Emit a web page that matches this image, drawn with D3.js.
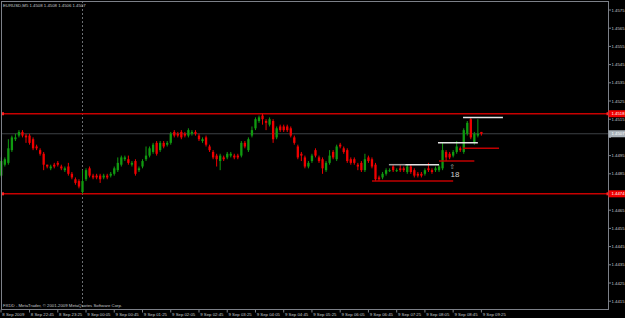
<!DOCTYPE html>
<html><head><meta charset="utf-8">
<script src="https://cdn.jsdelivr.net/npm/d3@7"></script>
<style>html,body{margin:0;padding:0;background:#000;overflow:hidden}svg{display:block}</style>
</head><body><svg id="c" width="625" height="318"></svg>
<script>
// ---------- data ----------
const symbol = "EURUSD,M5";
const firstBar = "2009-09-08T22:05";
const barMinutes = 5;
const open  = [1.4484,1.4490,1.4491,1.4498,1.4504,1.4506,1.4508,1.4506,1.4506,1.4504,1.4500,1.4498,1.4496,1.4490,1.4488,1.4490,1.4491,1.4489,1.4487,1.4489,
1.4485,1.4482,1.4481,1.4475,1.4482,1.4488,1.4484,1.4484,1.4484,1.4483,1.4484,1.4484,1.4485,1.4487,1.4490,1.4493,1.4493,1.4490,1.4492,1.4487,
1.4489,1.4493,1.4495,1.4497,1.4502,1.4498,1.4502,1.4501,1.4502,1.4508,1.4507,1.4508,1.4507,1.4506,1.4507,1.4508,1.4506,1.4503,1.4505,1.4500,
1.4497,1.4495,1.4492,1.4494,1.4494,1.4495,1.4495,1.4495,1.4495,1.4502,1.4498,1.4506,1.4510,1.4514,1.4517,1.4514,1.4512,1.4514,1.4505,1.4511,
1.4511,1.4511,1.4510,1.4505,1.4500,1.4496,1.4494,1.4489,1.4492,1.4498,1.4494,1.4493,1.4487,1.4491,1.4497,1.4493,1.4501,1.4499,1.4498,1.4493,
1.4493,1.4490,1.4491,1.4487,1.4494,1.4493,1.4490,1.4483,1.4483,1.4485,1.4487,1.4489,1.4487,1.4488,1.4488,1.4486,1.4489,1.4487,1.4485,1.4485,
1.4485,1.4488,1.4487,1.4487,1.4487,1.4488,1.4497,1.4496,1.4495,1.4497,1.4499,1.4497,1.4507,1.4515,1.4502,1.4506,1.4508];
const high  = [1.4494,1.4494,1.4504,1.4506,1.4507,1.4509,1.4509,1.4507,1.4507,1.4505,1.4501,1.4499,1.4497,1.4490,1.4490,1.4491,1.4492,1.4490,1.4489,1.4491,
1.4486,1.4483,1.4482,1.4487,1.4488,1.4489,1.4485,1.4485,1.4485,1.4485,1.4485,1.4486,1.4489,1.4494,1.4495,1.4495,1.4495,1.4492,1.4493,1.4489,
1.4493,1.4500,1.4500,1.4502,1.4503,1.4503,1.4503,1.4503,1.4508,1.4509,1.4508,1.4509,1.4508,1.4510,1.4509,1.4509,1.4507,1.4505,1.4506,1.4501,
1.4498,1.4496,1.4496,1.4495,1.4497,1.4497,1.4496,1.4496,1.4503,1.4503,1.4505,1.4511,1.4516,1.4517,1.4518,1.4515,1.4516,1.4515,1.4511,1.4512,
1.4512,1.4512,1.4511,1.4506,1.4501,1.4497,1.4495,1.4492,1.4496,1.4499,1.4495,1.4494,1.4492,1.4498,1.4498,1.4501,1.4502,1.4500,1.4499,1.4494,
1.4494,1.4491,1.4492,1.4496,1.4495,1.4494,1.4491,1.4484,1.4486,1.4488,1.4488,1.4490,1.4488,1.4490,1.4489,1.4490,1.4490,1.4488,1.4486,1.4486,
1.4488,1.4491,1.4488,1.4489,1.4490,1.4502,1.4498,1.4497,1.4498,1.4503,1.4500,1.4510,1.4514,1.4516,1.4508,1.4515,1.4508];
const low   = [1.4483,1.4489,1.4490,1.4497,1.4503,1.4505,1.4505,1.4502,1.4501,1.4498,1.4498,1.4495,1.4487,1.4488,1.4487,1.4488,1.4489,1.4487,1.4486,1.4484,
1.4482,1.4479,1.4477,1.4474,1.4481,1.4483,1.4482,1.4482,1.4480,1.4482,1.4482,1.4483,1.4484,1.4486,1.4489,1.4492,1.4490,1.4489,1.4484,1.4486,
1.4488,1.4492,1.4494,1.4496,1.4495,1.4497,1.4499,1.4500,1.4501,1.4505,1.4505,1.4504,1.4505,1.4505,1.4506,1.4506,1.4503,1.4502,1.4500,1.4497,
1.4493,1.4489,1.4487,1.4492,1.4493,1.4494,1.4493,1.4493,1.4494,1.4499,1.4497,1.4505,1.4509,1.4513,1.4512,1.4509,1.4511,1.4502,1.4504,1.4508,
1.4508,1.4508,1.4505,1.4501,1.4493,1.4492,1.4488,1.4488,1.4491,1.4494,1.4491,1.4485,1.4486,1.4490,1.4493,1.4492,1.4499,1.4496,1.4491,1.4490,
1.4490,1.4487,1.4486,1.4486,1.4491,1.4488,1.4481,1.4481,1.4482,1.4484,1.4486,1.4486,1.4486,1.4486,1.4486,1.4485,1.4485,1.4483,1.4483,1.4483,
1.4484,1.4486,1.4485,1.4486,1.4486,1.4487,1.4492,1.4493,1.4494,1.4496,1.4497,1.4496,1.4506,1.4504,1.4501,1.4505,1.4506];
const close = [1.4492,1.4493,1.4499,1.4505,1.4505,1.4508,1.4506,1.4505,1.4502,1.4499,1.4499,1.4496,1.4490,1.4489,1.4489,1.4489,1.4490,1.4488,1.4488,1.4485,
1.4483,1.4480,1.4478,1.4481,1.4487,1.4484,1.4483,1.4483,1.4482,1.4484,1.4483,1.4485,1.4488,1.4491,1.4494,1.4494,1.4491,1.4491,1.4485,1.4488,
1.4492,1.4495,1.4499,1.4501,1.4496,1.4502,1.4500,1.4502,1.4507,1.4506,1.4506,1.4505,1.4506,1.4509,1.4508,1.4507,1.4504,1.4504,1.4501,1.4498,
1.4494,1.4493,1.4495,1.4493,1.4496,1.4496,1.4494,1.4494,1.4502,1.4500,1.4504,1.4509,1.4515,1.4516,1.4515,1.4513,1.4515,1.4504,1.4510,1.4509,
1.4509,1.4509,1.4506,1.4502,1.4494,1.4495,1.4489,1.4491,1.4495,1.4495,1.4492,1.4488,1.4491,1.4495,1.4494,1.4500,1.4500,1.4497,1.4492,1.4491,
1.4491,1.4489,1.4487,1.4493,1.4492,1.4489,1.4482,1.4482,1.4485,1.4487,1.4487,1.4487,1.4487,1.4487,1.4487,1.4489,1.4486,1.4484,1.4484,1.4484,
1.4487,1.4487,1.4486,1.4488,1.4489,1.4498,1.4494,1.4494,1.4497,1.4500,1.4498,1.4509,1.4513,1.4505,1.4507,1.4507,1.4507];

const priceTicks = [1.4575,1.4565,1.4555,1.4545,1.4535,1.4525,1.4515,1.4505,1.4495,1.4485,1.4475,1.4465,1.4455,1.4445,1.4435,1.4425,1.4415];
const redLevels = [1.4518, 1.4474];
const bidPrice = 1.4507;
const labelEveryBars = 8;
const separatorBar = 23;          // 9 Sep 00:00
const titleValues = ["1.4508","1.4508","1.4506","1.4507"];
const copyright = "FXDD - MetaTrader, \u00A9 2001-2009 MetaQuotes Software Corp.";
// range lines drawn on the chart (bar index from/to, price)
const lightLevels = [{from:109.8,to:114.4,price:1.4490,dim:true},{from:114.4,to:124.0,price:1.4490},
                     {from:123.7,to:135.0,price:1.4502},{from:130.8,to:142.1,price:1.4516}];
const darkLevels  = [{from:105.0,to:128.0,price:1.4481},{from:124.0,to:134.0,price:1.4492},{from:130.8,to:141.0,price:1.4499}];
const markerText = "18";
const markerAt = {bar:127.4, price:1.4487};

// ---------- drawing ----------
const W=625,H=318, frameL=1, frameT=1, frameR=608.5, frameB=309.5;
const svg=d3.select("#c");
svg.append("rect").attr("width",W).attr("height",H).attr("fill","#000");

const t0 = d3.timeParse("%Y-%m-%dT%H:%M")(firstBar);
const bars = open.map((o,i)=>({i,t:d3.timeMinute.offset(t0,i*barMinutes),o,h:high[i],l:low[i],c:close[i]}));
const x = d3.scaleLinear().domain([0,bars.length-1]).range([1.3,481.4]);
const y = d3.scaleLinear().domain([priceTicks[0],priceTicks[priceTicks.length-1]]).range([10,301.2]);

const font="'Liberation Sans', Arial, sans-serif";
const txtCol="#c4c8cc";

// period separator
svg.append("line").attr("x1",Math.round(x(separatorBar))+0.5).attr("x2",Math.round(x(separatorBar))+0.5)
  .attr("y1",frameT).attr("y2",frameB).attr("stroke","#6a6e72").attr("stroke-width",1).attr("stroke-dasharray","2,2");

// bid line
svg.append("line").attr("x1",frameL).attr("x2",frameR).attr("y1",y(bidPrice)).attr("y2",y(bidPrice))
  .attr("stroke","#3c4044").attr("stroke-width",1);

// red horizontal levels
redLevels.forEach(p=>{
  svg.append("line").attr("x1",frameL).attr("x2",frameR).attr("y1",y(p)).attr("y2",y(p))
    .attr("stroke","#c80000").attr("stroke-width",1.4);
  svg.append("rect").attr("x",frameL).attr("y",y(p)-1.5).attr("width",3).attr("height",3).attr("fill","#ff2020");
  svg.append("rect").attr("x",frameR-2).attr("y",y(p)-1.5).attr("width",3).attr("height",3).attr("fill","#ff2020");
});

// candles
const g=svg.append("g");
const green="#109a10", red="#f00000";
bars.forEach(b=>{
  const col = b.c>b.o ? green : (b.c<b.o ? red : green);
  const cx = x(b.i);
  g.append("line").attr("x1",cx).attr("x2",cx).attr("y1",y(b.h)).attr("y2",y(b.l)).attr("stroke",col).attr("stroke-width",1);
  const top=y(Math.max(b.o,b.c)), bot=y(Math.min(b.o,b.c));
  g.append("rect").attr("x",cx-1.15).attr("width",2.3).attr("y",top).attr("height",Math.max(1,bot-top)).attr("fill",col);
});

// range lines
darkLevels.forEach(d=>{
  svg.append("line").attr("x1",x(d.from)).attr("x2",x(d.to)).attr("y1",y(d.price)).attr("y2",y(d.price))
    .attr("stroke","#c00000").attr("stroke-width",1.5);
});
lightLevels.forEach(d=>{
  svg.append("line").attr("x1",x(d.from)).attr("x2",x(d.to)).attr("y1",y(d.price)).attr("y2",y(d.price))
    .attr("stroke",d.dim?"#a0a0a0":"#e4e4e4").attr("stroke-width",1.5);
});

// marker (arrow + count) as a single text element
const mk = svg.append("text").attr("font-family",font).attr("fill","#d0d0d0");
mk.append("tspan").attr("x",x(markerAt.bar)-1.5).attr("y",y(markerAt.price)-1).attr("font-size",6.5)
  .attr("fill","#b0b0b0").attr("font-family","'DejaVu Sans',sans-serif").text("\u21E7");
mk.append("tspan").attr("x",x(markerAt.bar)-0.5).attr("y",y(markerAt.price)+6.5).attr("font-size",8).text(markerText);

// frame
svg.append("rect").attr("x",frameL+0.5).attr("y",frameT+0.5).attr("width",frameR-frameL-0.5).attr("height",frameB-frameT-0.5)
  .attr("fill","none").attr("stroke","#7c8088").attr("stroke-width",1);

// price axis (labels fully hidden by a price tag are not drawn)
const fmt=d3.format(".4f");
const tagged=[...redLevels,bidPrice];
priceTicks.forEach(p=>{
  svg.append("line").attr("x1",frameR).attr("x2",frameR+2.5).attr("y1",y(p)).attr("y2",y(p)).attr("stroke","#7c8088");
  if (tagged.some(q=>Math.abs(y(q)-y(p))<3.8)) return;
  svg.append("text").attr("x",611.5).attr("y",y(p)+1.5).attr("font-family",font).attr("font-size",4.3)
    .attr("fill",txtCol).text(fmt(p));
});
function priceLabel(p,fill,tcol){
  svg.append("rect").attr("x",frameR).attr("y",y(p)-3.5).attr("width",W-frameR).attr("height",7).attr("fill",fill);
  svg.append("text").attr("x",611.5).attr("y",y(p)+1.5).attr("font-family",font).attr("font-size",4.3)
    .attr("fill",tcol).text(fmt(p));
}
redLevels.forEach(p=>priceLabel(p,"#f00000","#ffffff"));
priceLabel(bidPrice,"#a8b0b8","#ffffff");

// time axis
const tf=d3.timeFormat("%-d %b %H:%M"), df=d3.timeFormat("%-d %b %Y");
bars.filter(b=>b.i===0 || b.i%labelEveryBars===0).forEach(b=>{
  const tx = b.i===0 ? frameL : x(b.i);
  svg.append("line").attr("x1",tx).attr("x2",tx).attr("y1",frameB).attr("y2",frameB+3).attr("stroke","#7c8088");
  svg.append("text").attr("x",tx+1.3).attr("y",frameB+6).attr("font-family",font).attr("font-size",4.3)
    .attr("fill",txtCol).text(b.i===0?df(b.t):tf(b.t));
});

// title & copyright
svg.append("text").attr("x",3).attr("y",6.6).attr("font-family",font).attr("font-size",4.3).attr("fill",txtCol)
  .text(symbol+"  "+titleValues.join(" "));
svg.append("text").attr("x",3).attr("y",307.3).attr("font-family",font).attr("font-size",4.3).attr("fill",txtCol)
  .text(copyright);
</script></body></html>
